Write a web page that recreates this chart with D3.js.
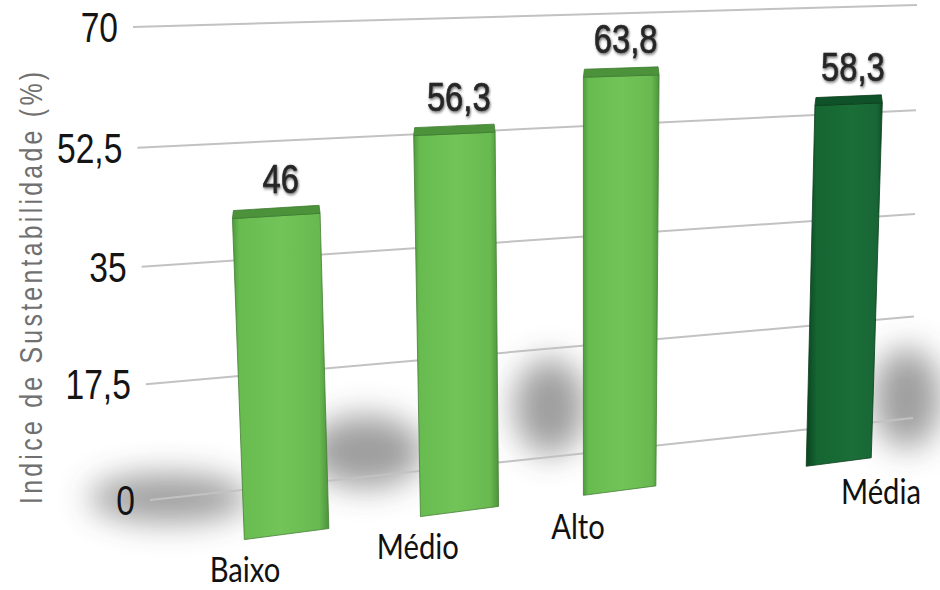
<!DOCTYPE html>
<html>
<head>
<meta charset="utf-8">
<script src="https://cdn.jsdelivr.net/npm/d3@7"></script>
<style>
    body { margin: 0; background: #fff; }
</style>
</head>
<body>
<svg id="graph"></svg>
<script>
// chart data
var categories = ["Baixo", "Médio", "Alto", "Média"];
var values = [46, 56.3, 63.8, 58.3];
var valueLabels = ["46", "56,3", "63,8", "58,3"];
var ticks = [0, 17.5, 35, 52.5, 70];
var tickLabels = ["0", "17,5", "35", "52,5", "70"];
var yTitle = "Indice de Sustentabilidade (%)";
var avgIndex = 3; // the "Média" bar sits apart from the others

width = 940;
height = 590;

// projective map of the unit square onto a screen quad
// corners given as (0,0), (0,1), (1,0), (1,1)
function homography(dst) {
    var src = [[0,0],[0,1],[1,0],[1,1]], A = [], b = [];
    src.forEach(function(p, i) {
        var x = p[0], y = p[1], X = dst[i][0], Y = dst[i][1];
        A.push([x, y, 1, 0, 0, 0, -x*X, -y*X]); b.push(X);
        A.push([0, 0, 0, x, y, 1, -x*Y, -y*Y]); b.push(Y);
    });
    var n = 8;
    for (var c = 0; c < n; c++) {
        var p = c;
        for (var r = c+1; r < n; r++) if (Math.abs(A[r][c]) > Math.abs(A[p][c])) p = r;
        var t = A[c]; A[c] = A[p]; A[p] = t;
        t = b[c]; b[c] = b[p]; b[p] = t;
        for (var r = c+1; r < n; r++) {
            var f = A[r][c] / A[c][c];
            for (var k = c; k < n; k++) A[r][k] -= f*A[c][k];
            b[r] -= f*b[c];
        }
    }
    var h = new Array(n);
    for (var r = n-1; r >= 0; r--) {
        var s = b[r];
        for (var k = r+1; k < n; k++) s -= A[r][k]*h[k];
        h[r] = s / A[r][r];
    }
    return function(u, v) {
        var w = h[6]*u + h[7]*v + 1;
        return [(h[0]*u + h[1]*v + h[2])/w, (h[3]*u + h[4]*v + h[5])/w];
    };
}

// back wall (gridlines) and bar front plane, in perspective
wall = homography([[150,500],[133,27],[913,418],[917,5]]);
plane = homography([[287,534],[271,41],[839,462],[851,29]]);

// slot index of each bar, with a gap before the average
slots = categories.map( (d,i) => i + (i == avgIndex ? 0.5 : 0) );
halfW = 0.235;

x = d3.scaleLinear().domain([0, d3.max(slots)]).range([0, 1]);
y = d3.scaleLinear().domain([0, 70]).range([0, 1]);

canvas = d3.select("#graph")
    .attr("width", width)
    .attr("height", height)
    .style("font-family", "'Liberation Sans', Arial, sans-serif");

defs = canvas.append("defs");
blur = defs.append("filter").attr("id", "blur")
    .attr("x", "-100%").attr("y", "-100%").attr("width", "300%").attr("height", "300%");
blur.append("feGaussianBlur").attr("stdDeviation", 16);
glow = defs.append("filter").attr("id", "glow")
    .attr("x", "-20%").attr("y", "-20%").attr("width", "140%").attr("height", "140%");
glow.append("feDropShadow")
    .attr("dx", 1).attr("dy", 1.5).attr("stdDeviation", 1.4)
    .attr("flood-color", "#000").attr("flood-opacity", 0.6);

function grad(id, stops) {
    var g = defs.append("linearGradient").attr("id", id)
        .attr("x1", 0).attr("x2", 1).attr("y1", 0).attr("y2", 0);
    stops.forEach(function(s) {
        g.append("stop").attr("offset", s[0]).attr("stop-color", s[1]);
    });
}
grad("light", [[0,"#4f9a3e"],[0.07,"#67bb4f"],[0.5,"#72c459"],[0.9,"#68ba50"],[1,"#4e923d"]]);
grad("dark", [[0,"#0b4320"],[0.14,"#156632"],[0.6,"#1b6e38"],[0.93,"#186635"],[1,"#114b27"]]);

// soft floor shadows, drifting further back towards the right
shadow = function(i) {
    var p = plane(x(slots[i]), 0);
    if (i == avgIndex) return { cx: p[0] + 68, cy: p[1] - 64, rx: 34, ry: 50 };
    return { cx: p[0] - 118 + 24*i, cy: p[1] - 36 - 24*i, rx: 80 - 22*i, ry: 24 + 12*i };
};
canvas.append("g").selectAll("ellipse")
    .data(values)
    .enter().append("ellipse")
        .attr("cx", (d,i) => shadow(i).cx)
        .attr("cy", (d,i) => shadow(i).cy)
        .attr("rx", (d,i) => shadow(i).rx)
        .attr("ry", (d,i) => shadow(i).ry)
        .attr("filter", "url(#blur)")
        .attr("style", "fill:#3c3c3c; opacity:0.5");

// gridlines on the back wall
grid = canvas.append("g");
grid.selectAll("line")
    .data(ticks)
    .enter().append("line")
        .attr("x1", (d) => wall(0, y(d))[0])
        .attr("y1", (d) => wall(0, y(d))[1])
        .attr("x2", (d) => wall(1, y(d))[0])
        .attr("y2", (d) => wall(1, y(d))[1])
        .attr("style", "stroke:#c2c2c2; stroke-width:2");

grid.selectAll("text")
    .data(ticks)
    .enter().append("text")
        .attr("transform", (d) => "translate(" + (wall(0, y(d))[0] - 15) + "," + wall(0, y(d))[1] + ") scale(0.8,1)")
        .attr("dy", "0.36em")
        .attr("text-anchor", "end")
        .attr("style", "font-size:42px; fill:#141414")
        .text( (d,i) => tickLabels[i] );

// axis title
canvas.append("text")
    .attr("transform", "translate(42,288) rotate(-90) scale(0.8,1)")
    .attr("text-anchor", "middle")
    .attr("textLength", 540)
    .attr("lengthAdjust", "spacing")
    .attr("style", "font-size:31px; fill:#707070")
    .text(yTitle);

// bars
bars = canvas.append("g").selectAll("g")
    .data(values)
    .enter().append("g");

function face(d, i) {
    var s = slots[i];
    return [
        plane(x(s - halfW), 0), plane(x(s + halfW), 0),
        plane(x(s + halfW), y(d)), plane(x(s - halfW), y(d))
    ];
}

bars.append("path")
    .attr("d", (d,i) => "M" + face(d,i).join("L") + "Z")
    .attr("fill", (d,i) => i == avgIndex ? "url(#dark)" : "url(#light)")
    .attr("stroke", (d,i) => i == avgIndex ? "#0b3d1c" : "#457f35")
    .attr("stroke-width", 0.8);

// thin top face seen from above
bars.append("path")
    .attr("d", function(d, i) {
        var f = face(d, i), tl = f[3], tr = f[2];
        return "M" + tl + "L" + tr + "L" + [tr[0]-1, tr[1]-8] + "L" + [tl[0]+1, tl[1]-8] + "Z";
    })
    .attr("fill", (d,i) => i == avgIndex ? "#0f5128" : "#4b923a")
    .attr("stroke", (d,i) => i == avgIndex ? "#0b3d1c" : "#3f7b31")
    .attr("stroke-width", 0.8)
    .attr("stroke-linejoin", "round");

// value labels
bars.append("text")
    .attr("transform", function(d, i) {
        var p = plane(x(slots[i]), y(d));
        return "translate(" + (p[0] + 4) + "," + (p[1] - 38) + ") scale(0.8,1)";
    })
    .attr("dy", "0.36em")
    .attr("text-anchor", "middle")
    .attr("filter", "url(#glow)")
    .attr("style", "font-size:41px; fill:#262626; stroke:#262626; stroke-width:0.6")
    .text( (d,i) => valueLabels[i] );

// category labels under the bars
bars.append("text")
    .attr("transform", function(d, i) {
        var p = plane(x(slots[i]), 0);
        var off = i == avgIndex ? [42, 42] : [-42, 48];
        return "translate(" + (p[0] + off[0]) + "," + (p[1] + off[1]) + ") scale(0.86,1)";
    })
    .attr("text-anchor", "middle")
    .attr("style", "font-family:Lato, sans-serif; font-size:34px; fill:#111")
    .text( (d,i) => categories[i] );
</script>
</body>
</html>
